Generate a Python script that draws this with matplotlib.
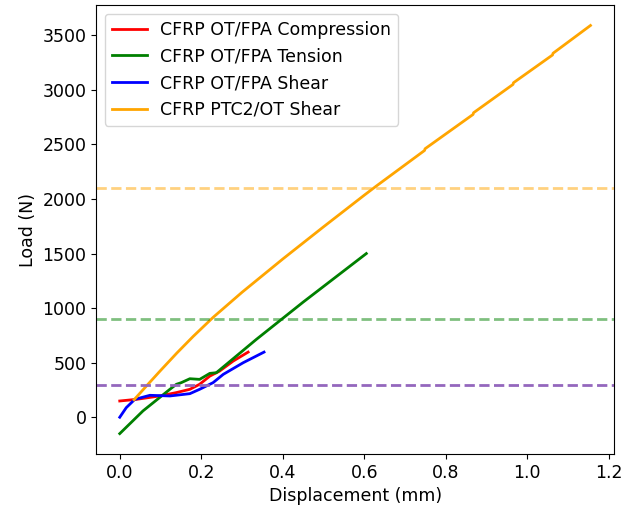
import matplotlib
matplotlib.use("Agg")
import matplotlib.pyplot as plt

# Load-displacement data
comp_disp = [0.0, 0.041, 0.098, 0.139, 0.172, 0.196, 0.221, 0.245, 0.278, 0.315]
comp_load = [149, 164, 195, 226, 256, 302, 377, 423, 514, 597]

tens_disp = [0.0, 0.057, 0.123, 0.139, 0.151, 0.172, 0.196, 0.221, 0.237, 0.335, 0.45, 0.605]
tens_load = [-150, 58, 256, 302, 317, 353, 347, 402, 408, 713, 1055, 1500]

shear_disp = [0.0, 0.016, 0.037, 0.074, 0.123, 0.172, 0.196, 0.229, 0.254, 0.303, 0.354]
shear_load = [0, 88, 164, 201, 195, 216, 256, 317, 393, 500, 597]

ptc_disp = [0.035, 0.07, 0.1, 0.14, 0.18, 0.229, 0.3, 0.4, 0.5, 0.6, 0.63,
            0.748, 0.749, 0.867, 0.868, 0.965, 0.966, 1.062, 1.063, 1.155]
ptc_load = [160, 305, 428, 588, 740, 915, 1145, 1450, 1745, 2035, 2120,
            2445, 2460, 2775, 2790, 3050, 3065, 3320, 3335, 3590]

limit_loads = [300, 900, 2100]
limit_colors = ["#9467bd", "green", "orange"]
limit_alpha = [1.0, 0.5, 0.5]

plt.rcParams["font.size"] = 12.5
plt.rcParams["lines.linewidth"] = 2

fig = plt.figure(figsize=(6.33, 5.07), dpi=100)
ax = fig.add_subplot(111)
fig.subplots_adjust(left=0.152, right=0.970, bottom=0.1045, top=0.990)

ax.plot(comp_disp, comp_load, color="red", label="CFRP OT/FPA Compression")
ax.plot(tens_disp, tens_load, color="green", label="CFRP OT/FPA Tension")
ax.plot(shear_disp, shear_load, color="blue", label="CFRP OT/FPA Shear")
ax.plot(ptc_disp, ptc_load, color="orange", label="CFRP PTC2/OT Shear")

for load, col, a in zip(limit_loads, limit_colors, limit_alpha):
    ax.axhline(load, color=col, alpha=a, linestyle="--")

ax.set_xlabel("Displacement (mm)")
ax.set_ylabel("Load (N)")
ax.legend(loc="upper left")

fig.savefig("out.png", dpi=100)
